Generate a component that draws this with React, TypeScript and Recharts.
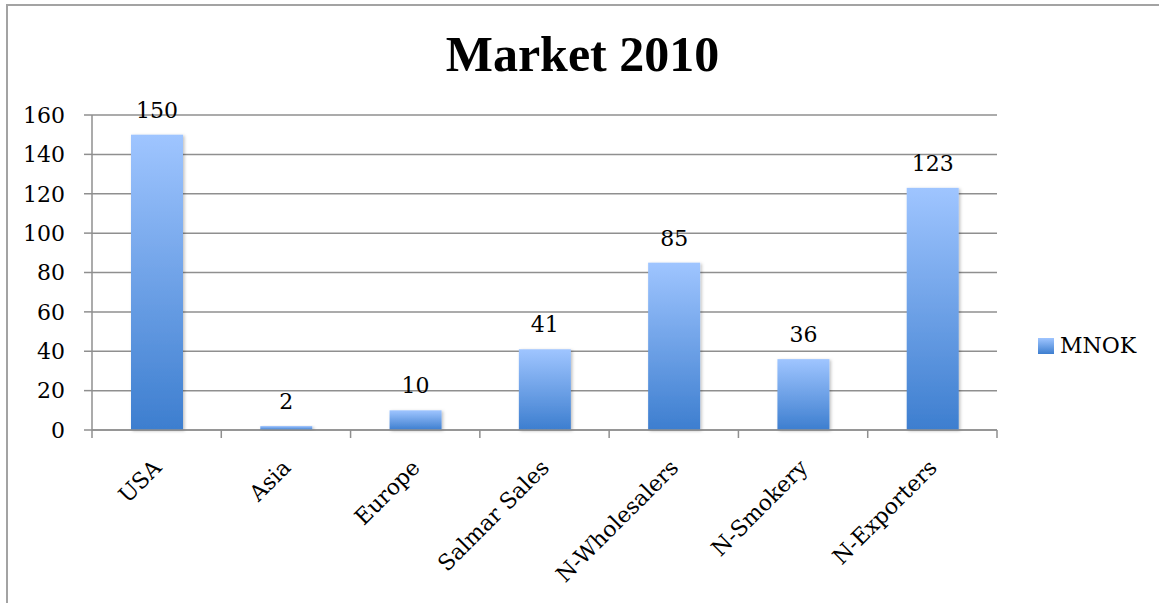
import { BarChart, Bar, XAxis, YAxis, CartesianGrid, LabelList } from "recharts";

const markets = [
  "USA",
  "Asia",
  "Europe",
  "Salmar Sales",
  "N-Wholesalers",
  "N-Smokery",
  "N-Exporters",
];
const mnok = [150, 2, 10, 41, 85, 36, 123];
const yTicks = [0, 20, 40, 60, 80, 100, 120, 140, 160];
const chartTitle = "Market 2010";
const seriesName = "MNOK";

const data = markets.map((market, i) => ({ market, [seriesName]: mnok[i] }));

const W = 1159;
const H = 603;
const PLOT_LEFT = 92;
const PLOT_RIGHT = 997;
const PLOT_TOP = 115;
const PLOT_BOTTOM = 430;
const X_AXIS_H = 150;

const TITLE_FONT = "Liberation Serif";
const FONT = "DejaVu Serif";
const FS = 22;
const GRID = "#8f8f8f";
const TOP_BLUE = "#9fc5ff";
const BOTTOM_BLUE = "#3d7ecf";

function MarketTick(props: any) {
  const { x, y, payload, index } = props;
  const band = (PLOT_RIGHT - PLOT_LEFT) / markets.length;
  const left = x - band / 2;
  const right = x + band / 2;
  const tx = x + 6;
  const ty = y + 31;
  return (
    <g>
      <line x1={left} x2={left} y1={y - 8} y2={y} stroke={GRID} strokeWidth={1.5} />
      {index === markets.length - 1 && (
        <line x1={right} x2={right} y1={y - 8} y2={y} stroke={GRID} strokeWidth={1.5} />
      )}
      <text
        x={tx}
        y={ty}
        transform={`rotate(-45, ${tx}, ${ty})`}
        textAnchor="end"
        fontSize={FS}
        style={{ fontFamily: FONT }}
        fill="#000"
      >
        {payload.value}
      </text>
    </g>
  );
}

function ShadedBar(props: any) {
  const { x, y, width, height } = props;
  if (!height || height <= 0) return null;
  return (
    <rect
      x={x}
      y={y}
      width={width}
      height={height}
      fill="url(#barFill)"
      filter="url(#barShadow)"
    />
  );
}

export default function App() {
  return (
    <div
      style={{
        position: "absolute",
        left: 0,
        top: 0,
        width: W,
        height: H,
        overflow: "hidden",
        background: "#fff",
        fontFamily: FONT,
      }}
    >
      <div
        style={{
          position: "absolute",
          left: 6,
          top: 4,
          right: 0,
          bottom: 0,
          borderTop: "2px solid #a3a3a3",
          borderLeft: "2px solid #a3a3a3",
        }}
      />
      <div
        style={{
          position: "absolute",
          left: 0,
          width: 1165,
          top: 29,
          textAlign: "center",
          fontFamily: TITLE_FONT,
          fontWeight: "bold",
          fontSize: 50,
          lineHeight: "50px",
        }}
      >
        {chartTitle}
      </div>
      <div
        style={{
          position: "absolute",
          left: 1038,
          top: 334,
          display: "flex",
          alignItems: "center",
          fontSize: FS,
        }}
      >
        <span
          style={{
            display: "inline-block",
            width: 16,
            height: 16,
            marginRight: 6,
            background: `linear-gradient(${TOP_BLUE}, ${BOTTOM_BLUE})`,
          }}
        />
        <span style={{ lineHeight: "24px" }}>{seriesName}</span>
      </div>
      <BarChart
        width={W}
        height={H}
        data={data}
        margin={{
          top: PLOT_TOP,
          left: 0,
          right: W - PLOT_RIGHT,
          bottom: H - PLOT_BOTTOM - X_AXIS_H,
        }}
        barSize={52}
        style={{ position: "absolute", left: 0, top: 0 }}
      >
        <defs>
          <linearGradient id="barFill" x1="0" y1="0" x2="0" y2="1">
            <stop offset="0%" stopColor={TOP_BLUE} />
            <stop offset="100%" stopColor={BOTTOM_BLUE} />
          </linearGradient>
          <filter id="barShadow" x="-20%" y="-20%" width="140%" height="140%">
            <feDropShadow dx="1.5" dy="1" stdDeviation="1.5" floodColor="#000" floodOpacity="0.25" />
          </filter>
        </defs>
        <CartesianGrid horizontal={true} vertical={false} stroke={GRID} strokeWidth={1.5} />
        <XAxis
          dataKey="market"
          interval={0}
          height={X_AXIS_H}
          tickLine={false}
          tickSize={8}
          tickMargin={0}
          axisLine={{ stroke: GRID, strokeWidth: 1.5 }}
          tick={<MarketTick />}
        />
        <YAxis
          width={PLOT_LEFT}
          domain={[0, 160]}
          ticks={yTicks}
          interval={0}
          tickSize={8}
          tickMargin={19}
          axisLine={{ stroke: GRID, strokeWidth: 1.5 }}
          tickLine={{ stroke: GRID, strokeWidth: 1.5 }}
          tick={{ fill: "#000", fontSize: FS, style: { fontFamily: FONT } }}
        />
        <Bar dataKey={seriesName} shape={<ShadedBar />} isAnimationActive={false}>
          <LabelList
            dataKey={seriesName}
            position="top"
            offset={17}
            fill="#000"
            fontSize={FS}
            style={{ fontFamily: FONT }}
          />
        </Bar>
      </BarChart>
    </div>
  );
}
